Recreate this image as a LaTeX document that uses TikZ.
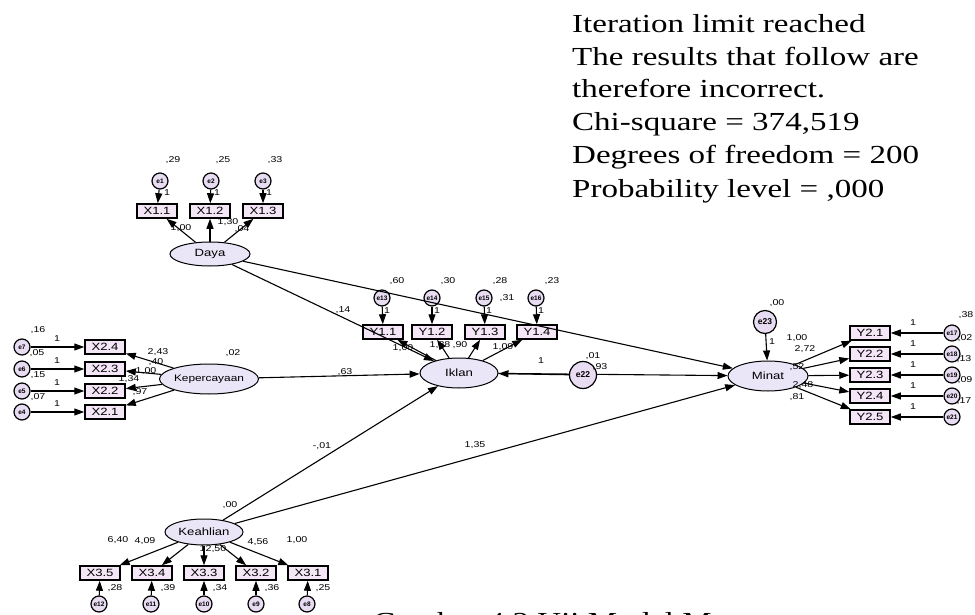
\documentclass[tikz,border=0pt]{standalone}
\usepackage{fontspec}
\setmainfont{Liberation Serif}
\setsansfont{Liberation Sans}
\usetikzlibrary{arrows.meta,shapes.geometric}
\definecolor{latfill}{RGB}{234,230,247}
\definecolor{obsfill}{RGB}{244,230,247}
\definecolor{errfill}{RGB}{232,220,242}
\newcommand{\hs}[1]{\scalebox{1.25}[1]{#1}}
\begin{document}
\begin{tikzpicture}[x=1pt,y=-1pt,
 lat/.style={ellipse, draw, line width=1pt, fill=latfill, minimum width=80pt, minimum height=28pt, inner sep=0pt, font=\sffamily\fontsize{10.5}{10.5}\selectfont},
 obs/.style={rectangle, draw, line width=1.5pt, fill=obsfill, minimum width=40pt, minimum height=14pt, inner sep=0pt, font=\sffamily\fontsize{10.5}{10.5}\selectfont},
 err/.style={circle, draw, line width=1.2pt, fill=errfill, minimum size=16pt, inner sep=0pt, font=\sffamily\bfseries\fontsize{6.5}{6.5}\selectfont},
 lbl/.style={font=\sffamily\fontsize{8.5}{8.5}\selectfont, inner sep=0pt},
 arr/.style={-{Triangle[length=10pt,width=7pt]}, line width=1.1pt},
 big/.style={anchor=base west, inner sep=0pt, font=\fontsize{26}{26}\selectfont},
]
\useasboundingbox (0,0) rectangle (975,615);
\fill[white] (0,0) rectangle (975,615);

% ---- latent variables
\node[lat, minimum width=80pt, minimum height=24pt] (daya) at (210,254) {\hs{Daya}};
\node[lat, minimum width=82pt, minimum height=30pt] (keper) at (209,379) {\hs{\fontsize{9.5}{9.5}\selectfont Kepercayaan}};
\node[lat, minimum width=78pt, minimum height=30pt] (iklan) at (459,373) {\hs{Iklan}};
\node[lat, minimum width=80pt, minimum height=30pt] (minat) at (768,376) {\hs{Minat}};
\node[lat, minimum width=78pt, minimum height=26pt] (keahl) at (204,532) {\hs{Keahlian}};

% ---- Daya indicators
\node[obs] (x11) at (157,211) {\hs{X1.1}};
\node[obs] (x12) at (210,211) {\hs{X1.2}};
\node[obs] (x13) at (263,211) {\hs{X1.3}};
\node[err] (e1) at (160,181) {e1};
\node[err] (e2) at (211,181) {e2};
\node[err] (e3) at (263,181) {e3};

% ---- Kepercayaan indicators
\node[obs] (x24) at (105,347) {\hs{X2.4}};
\node[obs] (x23) at (105,369) {\hs{X2.3}};
\node[obs] (x22) at (105,391) {\hs{X2.2}};
\node[obs] (x21) at (105,412) {\hs{X2.1}};
\node[err] (e7) at (22,347) {e7};
\node[err] (e6) at (22,369) {e6};
\node[err] (e5) at (22,391) {e5};
\node[err] (e4) at (22,412) {e4};

% ---- Iklan indicators
\node[obs] (y11) at (383,332) {\hs{Y1.1}};
\node[obs] (y12) at (432,332) {\hs{Y1.2}};
\node[obs] (y13) at (485,332) {\hs{Y1.3}};
\node[obs] (y14) at (537,332) {\hs{Y1.4}};
\node[err] (e13) at (382,298) {e13};
\node[err] (e14) at (432,298) {e14};
\node[err] (e15) at (484,298) {e15};
\node[err] (e16) at (536,298) {e16};

% ---- Minat indicators
\node[obs] (y21) at (870,333) {\hs{Y2.1}};
\node[obs] (y22) at (870,354) {\hs{Y2.2}};
\node[obs] (y23) at (870,375) {\hs{Y2.3}};
\node[obs] (y24) at (870,396) {\hs{Y2.4}};
\node[obs] (y25) at (870,417) {\hs{Y2.5}};
\node[err] (e17) at (952,333) {e17};
\node[err] (e18) at (952,354) {e18};
\node[err] (e19) at (952,375) {e19};
\node[err] (e20) at (952,396) {e20};
\node[err] (e21) at (952,417) {e21};

% ---- Keahlian indicators
\node[obs] (x35) at (100,573) {\hs{X3.5}};
\node[obs] (x34) at (152,573) {\hs{X3.4}};
\node[obs] (x33) at (204,573) {\hs{X3.3}};
\node[obs] (x32) at (256,573) {\hs{X3.2}};
\node[obs] (x31) at (308,573) {\hs{X3.1}};
\node[err] (e12) at (99,604) {e12};
\node[err] (e11) at (151,604) {e11};
\node[err] (e10) at (204,604) {e10};
\node[err] (e9) at (256,604) {e9};
\node[err] (e8) at (307,604) {e8};

% ---- structural paths
\draw[arr] (daya) -- (iklan);
\draw[arr] (daya) -- (minat);
\draw[arr] (keper) -- (iklan);
\draw[arr] (keahl) -- (iklan);
\draw[arr] (keahl) -- (minat);
\draw[arr] (iklan) -- (minat);
\node[err, minimum size=27pt, font=\sffamily\bfseries\fontsize{8.5}{8.5}\selectfont] (e22) at (583,375) {e22};
\node[err, minimum size=23pt, font=\sffamily\bfseries\fontsize{8.5}{8.5}\selectfont] (e23) at (765,322) {e23};
\draw[arr] (e22) -- (iklan);
\draw[arr] (e23) -- (minat);

% ---- measurement paths
\foreach \l/\o in {daya/x11,daya/x12,daya/x13,keper/x24,keper/x23,keper/x22,keper/x21,
  iklan/y11,iklan/y12,iklan/y13,iklan/y14,minat/y21,minat/y22,minat/y23,minat/y24,minat/y25,
  keahl/x35,keahl/x34,keahl/x33,keahl/x32,keahl/x31}
  \draw[arr] (\l) -- (\o);
\foreach \e/\o in {e1/x11,e2/x12,e3/x13,e7/x24,e6/x23,e5/x22,e4/x21,
  e13/y11,e14/y12,e15/y13,e16/y14,e17/y21,e18/y22,e19/y23,e20/y24,e21/y25,
  e12/x35,e11/x34,e10/x33,e9/x32,e8/x31}
  \draw[arr] (\e) -- (\o);

% ---- fixed "1" labels
\foreach \x/\y [count=\i] in {167/193,217/193,269/193,57/339,57/361,57/383,57/404,
  387/311,437/311,489/311,541/311,913/323,913/344,913/365,913/386,913/407,772/342,541/361}
  \node[lbl] (one\i) at (\x,\y) {\hs{1}};

% ---- variance labels
\foreach \t/\x/\y [count=\i] in {{,29}/173/160,{,25}/223/160,{,33}/275/160,{,02}/233/353,
  {,16}/38/330,{,05}/37/353,{,15}/38/375,{,07}/38/397,
  {,60}/397/281,{,30}/448/281,{,28}/500/281,{,23}/552/281,{,31}/507/298,
  {,01}/593/356,{,00}/777/303,
  {,38}/966/315,{,02}/965/338,{,13}/964/359,{,09}/965/380,{,17}/964/401,
  {,00}/230/505,{,28}/115/588,{,39}/168/588,{,34}/220/588,{,36}/272/588,{,25}/323/588}
  \node[lbl] (var\i) at (\x,\y) {\hs{\t}};

% ---- path coefficients
\foreach \t/\x/\y [count=\i] in {{1,00}/181/228,{1,30}/228/222,{,04}/242/229,
  {2,43}/158/352,{,40}/156/362,{1,00}/146/371,{1,34}/129/379,{,97}/140/392,
  {1,00}/403/348,{1,38}/440/345,{,90}/460/345,{1,09}/503/347,
  {1,00}/797/338,{2,72}/805/349,{,52}/797/367,{2,48}/803/385,{,81}/797/397,
  {6,40}/118/540,{4,09}/145/541,{12,50}/213/549,{4,56}/258/542,{1,00}/297/540,
  {,14}/343/310,{,63}/345/372,{-,01}/322/446,{1,35}/475/445,{,93}/600/367}
  \node[lbl] (coef\i) at (\x,\y) {\hs{\t}};

% ---- fit text
\node[big] (t1) at (572,33) {\scalebox{1.27}[1]{Iteration limit reached}};
\node[big] (t2) at (572,65.5) {\scalebox{1.27}[1]{The results that follow are}};
\node[big] (t3) at (572,98) {\scalebox{1.27}[1]{therefore incorrect.}};
\node[big] (t4) at (572,131) {\scalebox{1.27}[1]{Chi-square = 374,519}};
\node[big] (t5) at (572,164) {\scalebox{1.27}[1]{Degrees of freedom = 200}};
\node[big] (t6) at (572,197) {\scalebox{1.27}[1]{Probability level = ,000}};

% ---- cut-off caption
\begin{scope}
\clip (0,0) rectangle (975,615);
\node[big] (cap) at (373,630) {\scalebox{1.27}[1]{Gambar 4.2 Uji Model M}};
\end{scope}
\end{tikzpicture}
\end{document}
